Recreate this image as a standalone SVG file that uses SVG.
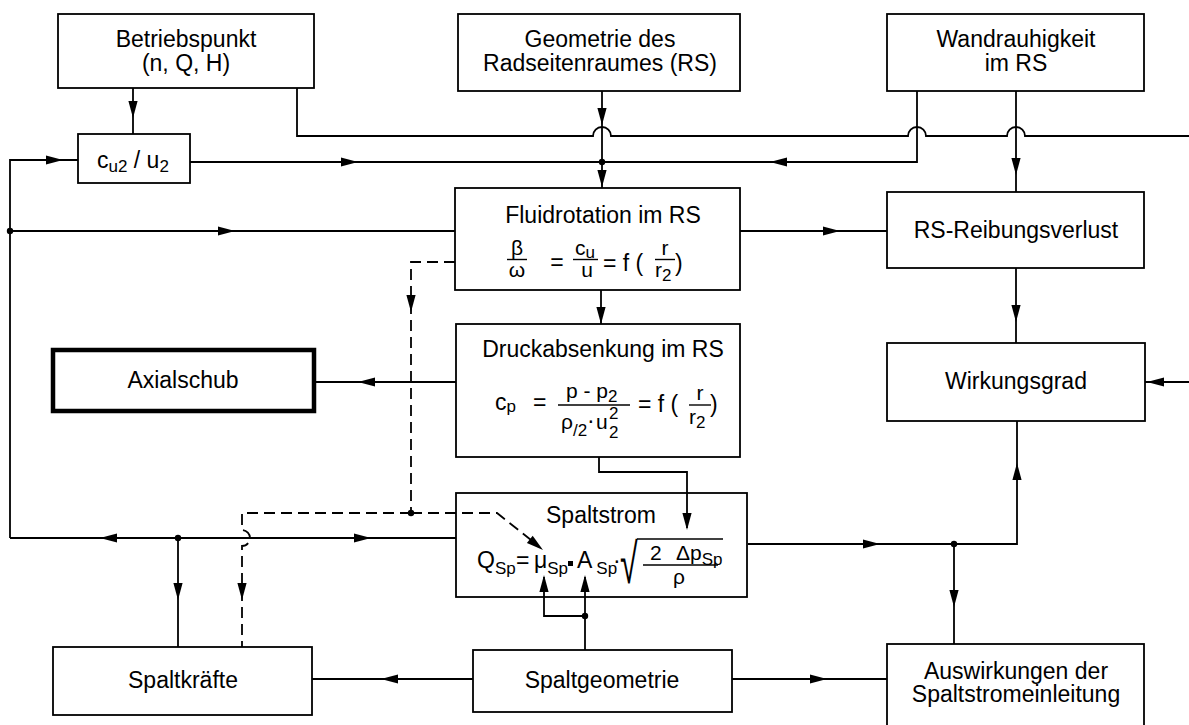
<svg xmlns="http://www.w3.org/2000/svg" xmlns:xlink="http://www.w3.org/1999/xlink" width="1189" height="725" viewBox="0 0 1189 725">
<style>
.box{fill:#fff;stroke:#000;stroke-width:1.8}
.thick{stroke-width:4.5}
.t{font-family:"Liberation Sans",Arial,sans-serif;font-size:23px;text-anchor:middle;fill:#000}
.f{font-family:"Liberation Sans",Arial,sans-serif;font-size:23px;fill:#000}
.q{font-size:21px}
.m{text-anchor:middle}
.s{font-size:17px}
.c{fill:none;stroke:#000;stroke-width:1.8}
.d{stroke-dasharray:11 6}
.bar{stroke:#000;stroke-width:1.4}
.dot{fill:#000}
</style>
<defs>
<path id="ah" d="M0,0 L-17,-4.6 L-17,4.6 Z" fill="#000"/>
</defs>
<rect width="1189" height="725" fill="#fff"/>

<g id="betriebspunkt">
<rect class="box" x="58" y="14" width="256" height="74"/>
<text class="t" x="186" y="47">Betriebspunkt</text>
<text class="t" x="186" y="71">(n, Q, H)</text>
</g>

<g id="geometrie">
<rect class="box" x="458" y="14" width="282" height="77"/>
<text class="t" x="600" y="47">Geometrie des</text>
<text class="t" x="600" y="71">Radseitenraumes (RS)</text>
</g>

<g id="wandrauhigkeit">
<rect class="box" x="887" y="14" width="257" height="77"/>
<text class="t" x="1016" y="47">Wandrauhigkeit</text>
<text class="t" x="1016" y="71">im RS</text>
</g>

<g id="cu2u2">
<rect class="box" x="78" y="134" width="112" height="49"/>
<text class="f" x="97" y="168">c<tspan class="s" dy="4">u2</tspan><tspan dy="-4"> / u</tspan><tspan class="s" dy="4">2</tspan></text>
</g>

<g id="fluidrotation">
<rect class="box" x="455" y="188" width="285" height="102"/>
<text class="t" x="603" y="223">Fluidrotation im RS</text>
<text class="f q m" x="517" y="255">β</text>
<line class="bar" x1="507" y1="259.5" x2="527" y2="259.5"/>
<text class="f q m" x="517" y="277">ω</text>
<text class="f m" x="557" y="270">=</text>
<text class="f q" x="575" y="255">c<tspan class="s" dy="3">u</tspan></text>
<line class="bar" x1="573" y1="259.5" x2="598" y2="259.5"/>
<text class="f q m" x="587" y="277">u</text>
<text class="f" x="603" y="271">= f (</text>
<text class="f q m" x="665" y="255">r</text>
<line class="bar" x1="655" y1="259.5" x2="675" y2="259.5"/>
<text class="f q" x="655" y="277">r<tspan class="s" dy="4">2</tspan></text>
<text class="f" x="675" y="271">)</text>
</g>

<g id="reibungsverlust">
<rect class="box" x="887" y="192" width="257" height="76"/>
<text class="t" x="1016" y="238">RS-Reibungsverlust</text>
</g>

<g id="druckabsenkung">
<rect class="box" x="456" y="324" width="284" height="133"/>
<text class="t" x="603" y="357">Druckabsenkung im RS</text>
<text class="f" x="495" y="410">c<tspan class="s" dy="2">p</tspan></text>
<text class="f" x="533" y="410">=</text>
<text class="f q" x="566" y="398">p - p<tspan class="s" dy="4">2</tspan></text>
<line class="bar" x1="558" y1="405" x2="630" y2="405"/>
<text class="f q" x="561" y="429">ρ</text>
<text class="f s" x="573" y="436">/2</text>
<text class="f" x="587" y="428">·</text>
<text class="f q" x="596" y="429">u</text>
<text class="f s" x="609" y="419">2</text>
<text class="f s" x="609" y="438">2</text>
<text class="f" x="638" y="412">= f (</text>
<text class="f q m" x="700" y="400">r</text>
<line class="bar" x1="689" y1="405" x2="711" y2="405"/>
<text class="f q" x="689" y="424">r<tspan class="s" dy="4">2</tspan></text>
<text class="f" x="710" y="412">)</text>
</g>

<g id="axialschub">
<rect class="box thick" x="53" y="350" width="261" height="61"/>
<text class="t" x="183" y="388">Axialschub</text>
</g>

<g id="wirkungsgrad">
<rect class="box" x="887" y="343" width="258" height="78"/>
<text class="t" x="1016" y="389">Wirkungsgrad</text>
</g>

<g id="spaltstrom">
<rect class="box" x="456" y="493" width="291" height="104"/>
<text class="t" x="601" y="523">Spaltstrom</text>
<text class="f" x="477" y="568">Q<tspan class="s" dy="6">Sp</tspan></text>
<text class="f" x="516" y="568">=</text>
<text class="f" x="534" y="568">μ<tspan class="s" dy="6">Sp</tspan></text>
<rect x="568" y="561" width="5" height="5" fill="#000"/>
<text class="f" x="577" y="568">A<tspan class="s" dy="6" dx="4">Sp</tspan></text>
<text class="f" x="613" y="568">·</text>
<text class="f" font-size="34" transform="translate(620,583) scale(1.4,2.45)">√</text>
<line class="bar" x1="637" y1="539" x2="723" y2="539"/>
<text class="f q" x="650" y="560">2</text>
<text class="f q" x="676" y="560">Δp<tspan class="s" dy="5">Sp</tspan></text>
<line class="bar" x1="643" y1="565" x2="718" y2="565" stroke="#333"/>
<text class="f q" x="673" y="584">ρ</text>
</g>

<g id="spaltkraefte">
<rect class="box" x="53" y="647" width="259" height="68"/>
<text class="t" x="183" y="688">Spaltkräfte</text>
</g>

<g id="spaltgeometrie">
<rect class="box" x="473" y="650" width="259" height="62"/>
<text class="t" x="602" y="688">Spaltgeometrie</text>
</g>

<g id="auswirkungen">
<rect class="box" x="887" y="644" width="257" height="90"/>
<text class="t" x="1016" y="679">Auswirkungen der</text>
<text class="t" x="1016" y="702">Spaltstromeinleitung</text>
</g>

<g id="connectors">
<path class="c" d="M133,88 V134"/>
<path class="c" d="M297,88 V136 H593 A9,9 0 0 1 611,136 H908 A9,9 0 0 1 926,136 H1007 A9,9 0 0 1 1025,136 H1189"/>
<path class="c" d="M602,91 V188"/>
<path class="c" d="M10,538 V160 H78"/>
<path class="c" d="M190,162 H917 V91"/>
<path class="c" d="M1016,91 V192"/>
<path class="c" d="M10,231 H455"/>
<path class="c" d="M740,231 H887"/>
<path class="c" d="M601,290 V324"/>
<path class="c" d="M456,382 H315"/>
<path class="c" d="M599,457 V472 H687 V528"/>
<path class="c" d="M1016,268 V343"/>
<path class="c" d="M1189,382 H1145"/>
<path class="c" d="M748,544 H1017 V421"/>
<path class="c" d="M954,544 V644"/>
<path class="c" d="M10,538 H456"/>
<path class="c" d="M178,538 V647"/>
<path class="c" d="M585,650 V577"/>
<path class="c" d="M585,616 H544 V577"/>
<path class="c" d="M473,679 H312"/>
<path class="c" d="M732,679 H887"/>
<path class="c d" d="M455,262 H411 V513"/>
<path class="c d" d="M411,513 H242 V530 A8,8 0 0 1 242,546 V647"/>
<path class="c d" d="M411,513 H497 L531,540"/>
<use xlink:href="#ah" transform="translate(133,118) rotate(90)"/>
<use xlink:href="#ah" transform="translate(63,160)"/>
<use xlink:href="#ah" transform="translate(358,162)"/>
<use xlink:href="#ah" transform="translate(602,125) rotate(90)"/>
<use xlink:href="#ah" transform="translate(602,187) rotate(90)"/>
<use xlink:href="#ah" transform="translate(770,162) rotate(180)"/>
<use xlink:href="#ah" transform="translate(1016,175) rotate(90)"/>
<use xlink:href="#ah" transform="translate(235,231)"/>
<use xlink:href="#ah" transform="translate(840,231)"/>
<use xlink:href="#ah" transform="translate(601,324) rotate(90)"/>
<use xlink:href="#ah" transform="translate(411,312) rotate(90)"/>
<use xlink:href="#ah" transform="translate(358,382) rotate(180)"/>
<use xlink:href="#ah" transform="translate(1016,322) rotate(90)"/>
<use xlink:href="#ah" transform="translate(1147,382) rotate(180)"/>
<use xlink:href="#ah" transform="translate(1017,463) rotate(270)"/>
<use xlink:href="#ah" transform="translate(880,544)"/>
<use xlink:href="#ah" transform="translate(954,607) rotate(90)"/>
<use xlink:href="#ah" transform="translate(687,530) rotate(90)"/>
<use xlink:href="#ah" transform="translate(100,538) rotate(180)"/>
<use xlink:href="#ah" transform="translate(371,538)"/>
<use xlink:href="#ah" transform="translate(178,600) rotate(90)"/>
<use xlink:href="#ah" transform="translate(242,600) rotate(90)"/>
<use xlink:href="#ah" transform="translate(543,550) rotate(39)"/>
<use xlink:href="#ah" transform="translate(544,575) rotate(270)"/>
<use xlink:href="#ah" transform="translate(585,575) rotate(270)"/>
<use xlink:href="#ah" transform="translate(381,679) rotate(180)"/>
<use xlink:href="#ah" transform="translate(827,679)"/>
<circle class="dot" cx="602" cy="162" r="3.2"/>
<circle class="dot" cx="10" cy="231" r="3.2"/>
<circle class="dot" cx="411" cy="513" r="3.2"/>
<circle class="dot" cx="178" cy="538" r="3.2"/>
<circle class="dot" cx="954" cy="544" r="3.2"/>
<circle class="dot" cx="585" cy="616" r="3.2"/>
</g>
</svg>
